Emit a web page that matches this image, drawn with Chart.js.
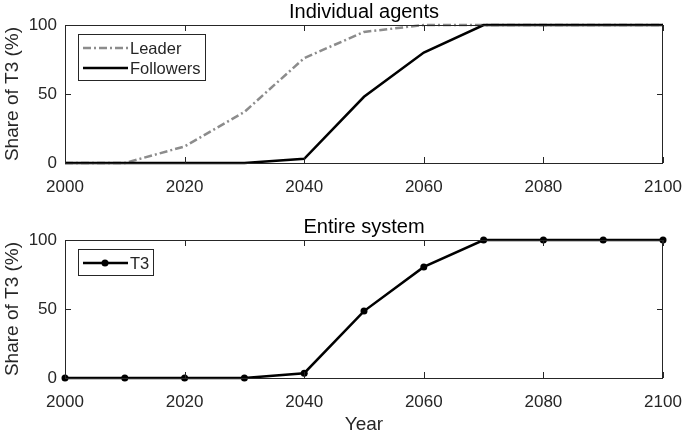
<!DOCTYPE html>
<html>
<head>
<meta charset="utf-8">
<script src="https://cdn.jsdelivr.net/npm/chart.js@4.4.1/dist/chart.umd.min.js"></script>
<style>
  body { margin: 0; background: #fff; }
  canvas { position: absolute; left: 0; }
</style>
</head>
<body>
<canvas id="haut" width="685" height="200" style="top:0"></canvas>
<canvas id="bas" width="685" height="234" style="top:200px"></canvas>
<script>
// données
const annees = [2000, 2010, 2020, 2030, 2040, 2050, 2060, 2070, 2080, 2090, 2100];
const leader = [0, 0, 12, 37, 76, 95, 100, 100, 100, 100, 100];
const suiveurs = [0, 0, 0, 0, 3, 48, 80, 100, 100, 100, 100];
const systeme = [0, 0, 0, 0, 3.5, 48.5, 80.5, 100, 100, 100, 100];
const ticksX = [2000, 2020, 2040, 2060, 2080, 2100];
const ticksY = [0, 50, 100];

const police = "'Liberation Sans', Arial, sans-serif";
const gris = '#262626';

const points = vals => annees.map((a, i) => ({ x: a, y: vals[i] }));

// cadre, petites graduations internes, titre et légende dessinés à la main
const cadre = {
  id: 'cadre',
  afterDatasetsDraw(chart, args, opts) {
    const ctx = chart.ctx;
    const ca = chart.chartArea;
    const sx = chart.scales.x, sy = chart.scales.y;
    ctx.save();
    ctx.strokeStyle = gris;
    ctx.lineWidth = 1;
    ctx.strokeRect(ca.left + 0.5, ca.top + 0.5, ca.right - ca.left - 1, ca.bottom - ca.top);
    ctx.beginPath();
    ticksX.forEach(v => {
      const px = Math.round(sx.getPixelForValue(v)) + 0.5;
      ctx.moveTo(px, ca.bottom); ctx.lineTo(px, ca.bottom - 6);
      ctx.moveTo(px, ca.top); ctx.lineTo(px, ca.top + 6);
    });
    ticksY.forEach(v => {
      const py = Math.round(sy.getPixelForValue(v)) + 0.5;
      ctx.moveTo(ca.left, py); ctx.lineTo(ca.left + 6, py);
      ctx.moveTo(ca.right, py); ctx.lineTo(ca.right - 6, py);
    });
    ctx.stroke();

    // titre
    ctx.fillStyle = '#000';
    ctx.font = '20px ' + police;
    ctx.textAlign = 'center';
    ctx.textBaseline = 'middle';
    ctx.fillText(opts.titre, (ca.left + ca.right) / 2, ca.top - 13);

    // légende
    const ds = chart.data.datasets;
    const bx = ca.left + 13, by = ca.top + 9;
    const bw = opts.largeur, bh = 8 + ds.length * 20 - 2;
    ctx.fillStyle = '#fff';
    ctx.fillRect(bx, by, bw, bh);
    ctx.strokeStyle = gris;
    ctx.lineWidth = 1;
    ctx.strokeRect(bx + 0.5, by + 0.5, bw, bh);
    ds.forEach((d, i) => {
      const ly = by + 14 + i * 20;
      ctx.beginPath();
      ctx.setLineDash(d.borderDash || []);
      ctx.strokeStyle = d.borderColor;
      ctx.lineWidth = d.borderWidth;
      ctx.moveTo(bx + 5, ly); ctx.lineTo(bx + 50, ly);
      ctx.stroke();
      ctx.setLineDash([]);
      if (d.pointRadius > 0) {
        ctx.beginPath();
        ctx.fillStyle = d.pointBackgroundColor;
        ctx.arc(bx + 27, ly, d.pointRadius, 0, Math.PI * 2);
        ctx.fill();
      }
      ctx.fillStyle = gris;
      ctx.textAlign = 'left';
      ctx.font = '16.5px ' + police;
      ctx.fillText(d.label, bx + 52, ly + 1);
    });
    ctx.restore();
  }
};

function echelles(hauteurX, titreX) {
  return {
    x: {
      type: 'linear', min: 2000, max: 2100,
      grid: { display: false, drawTicks: false }, border: { display: false },
      afterBuildTicks: s => { s.ticks = ticksX.map(v => ({ value: v })); },
      afterFit: s => { s.height = hauteurX; s.paddingLeft = 0; s.paddingRight = 0; },
      ticks: { color: gris, font: { family: police, size: 17 }, padding: 14, maxRotation: 0, callback: v => String(v) },
      title: { display: !!titreX, text: titreX, color: gris, font: { family: police, size: 19 }, padding: { top: 0, bottom: -2 } }
    },
    y: {
      min: 0, max: 100,
      grid: { display: false, drawTicks: false }, border: { display: false },
      afterBuildTicks: s => { s.ticks = ticksY.map(v => ({ value: v })); },
      afterFit: s => { s.width = 65; s.paddingTop = 0; s.paddingBottom = 0; },
      ticks: { color: gris, font: { family: police, size: 17 }, padding: 8 },
      title: { display: true, text: 'Share of T3 (%)', color: gris, font: { family: police, size: 19 }, padding: { top: 1, bottom: 0 } }
    }
  };
}

new Chart(document.getElementById('haut'), {
  type: 'line',
  data: {
    datasets: [
      { label: 'Leader', data: points(leader), borderColor: '#8c8c8c', borderWidth: 2.5,
        borderDash: [8, 3, 2, 3], pointRadius: 0, tension: 0, clip: false, order: 1 },
      { label: 'Followers', data: points(suiveurs), borderColor: '#000', borderWidth: 2.5,
        pointRadius: 0, tension: 0, clip: false, order: 0 }
    ]
  },
  options: {
    responsive: false, animation: false,
    layout: { padding: { left: 0, right: 22, top: 25, bottom: 0 } },
    plugins: { legend: { display: false }, tooltip: { enabled: false },
               cadre: { titre: 'Individual agents', largeur: 127 } },
    scales: echelles(37, '')
  },
  plugins: [cadre]
});

new Chart(document.getElementById('bas'), {
  type: 'line',
  data: {
    datasets: [
      { label: 'T3', data: points(systeme), borderColor: '#000', borderWidth: 2.5,
        pointRadius: 3.5, pointBackgroundColor: '#000', pointBorderWidth: 0,
        tension: 0, clip: false }
    ]
  },
  options: {
    responsive: false, animation: false,
    layout: { padding: { left: 0, right: 22, top: 40, bottom: 0 } },
    plugins: { legend: { display: false }, tooltip: { enabled: false },
               cadre: { titre: 'Entire system', largeur: 75 } },
    scales: echelles(56, 'Year')
  },
  plugins: [cadre]
});
</script>
</body>
</html>
